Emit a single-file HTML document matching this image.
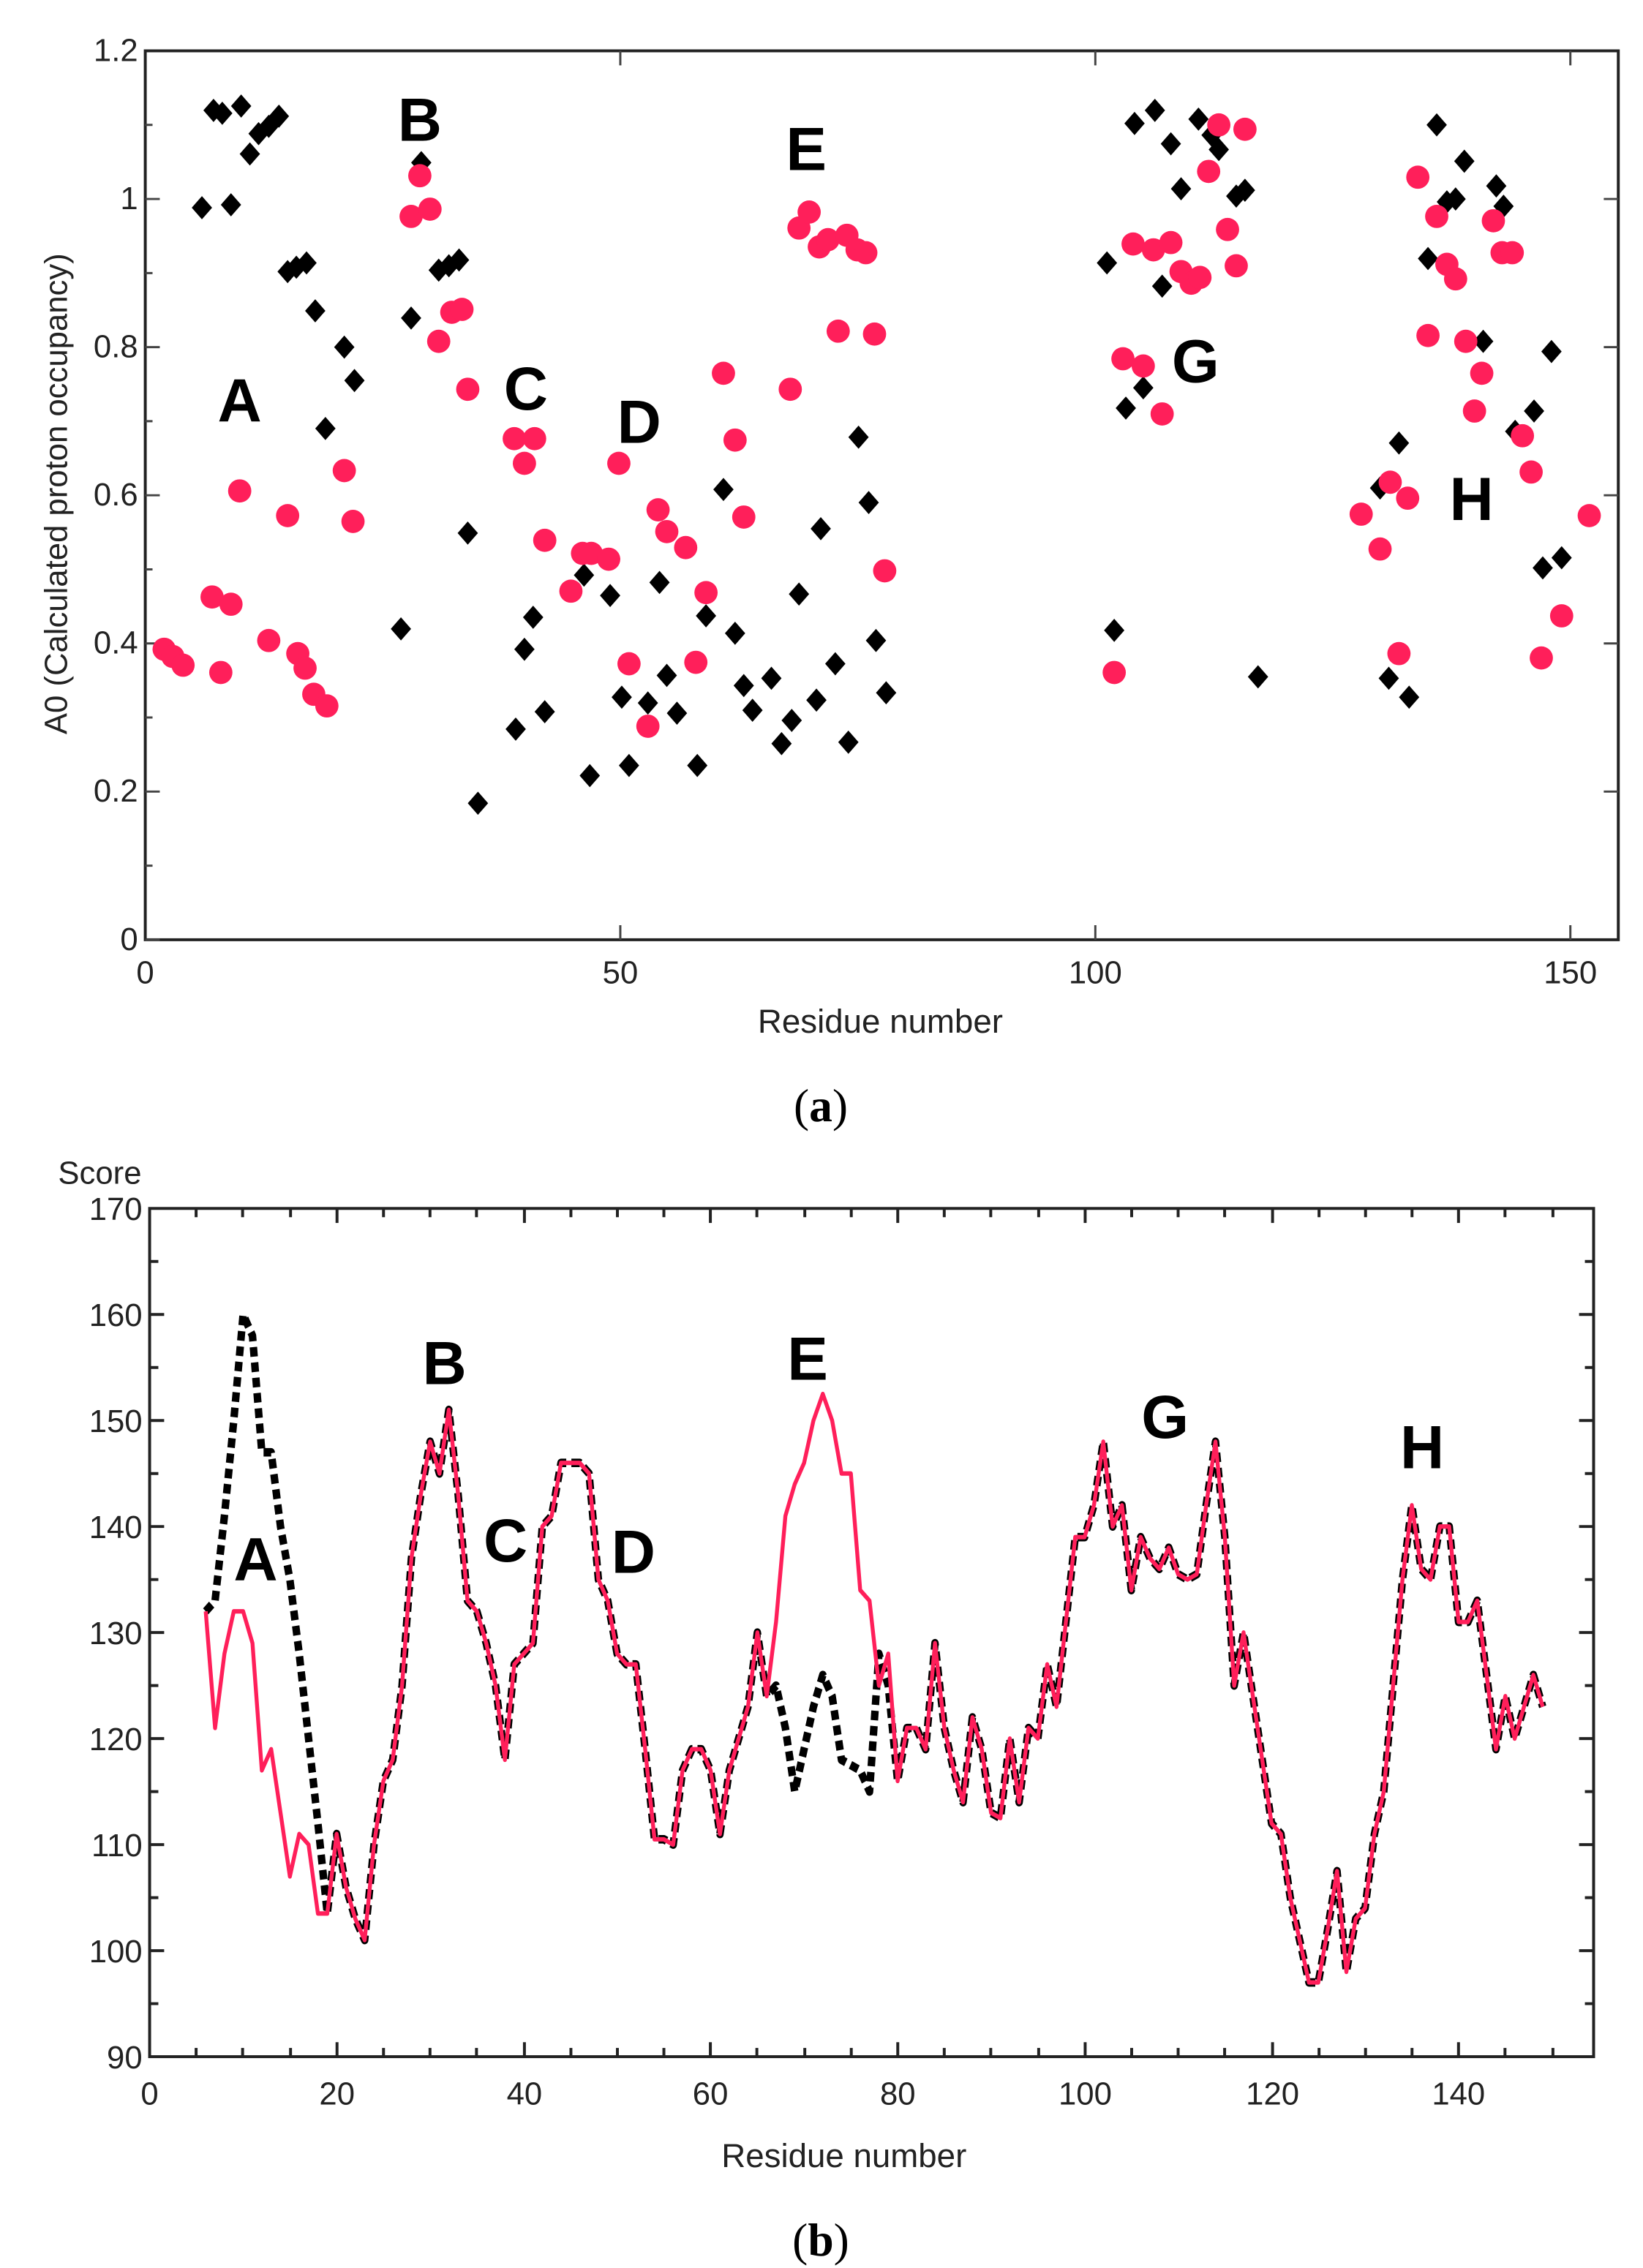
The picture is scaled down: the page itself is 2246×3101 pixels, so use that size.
<!DOCTYPE html>
<html><head><meta charset="utf-8"><style>
html,body{margin:0;padding:0;background:#fff}
svg{display:block}
text{font-family:"Liberation Sans",sans-serif}
.t{font-size:22px;fill:#222}
.L{font-size:42px;font-weight:bold;fill:#000}
</style></head><body>
<svg width="2246" height="3101" viewBox="0 0 1131 1561.5" preserveAspectRatio="none">
<defs><path id="d" d="M0,-8L7,0L0,8L-7,0Z"/></defs>
<rect x="100" y="35" width="1014" height="612" fill="none" stroke="#222" stroke-width="2"/>
<g stroke="#444" stroke-width="1.5">
<path d="M100,647h10M100,545h10M100,443h10M100,341h10M100,239h10M100,137h10M100,596h5M100,494h5M100,392h5M100,290h5M100,188h5M100,86h5M1114,545h-10M1114,443h-10M1114,341h-10M1114,239h-10M1114,137h-10M427,647v-10M754,647v-10M1081,647v-10M427,35v10M754,35v10M1081,35v10"/>
</g>
<g class="t" text-anchor="end">
<text x="95" y="654">0</text><text x="95" y="552">0.2</text><text x="95" y="450">0.4</text><text x="95" y="348">0.6</text><text x="95" y="246">0.8</text><text x="95" y="144">1</text><text x="95" y="42">1.2</text>
</g>
<g class="t" text-anchor="middle">
<text x="100" y="677">0</text><text x="427" y="677">50</text><text x="754" y="677">100</text><text x="1081" y="677">150</text>
<text x="606" y="711" style="font-size:23px">Residue number</text>
<text transform="translate(46,340) rotate(-90)" style="font-size:22px">A0 (Calculated proton occupancy)</text>
</g>
<g fill="#000">
<use href="#d" x="139" y="143"/><use href="#d" x="147" y="76"/><use href="#d" x="153" y="78"/><use href="#d" x="159" y="141"/><use href="#d" x="166" y="73"/><use href="#d" x="172" y="106"/><use href="#d" x="178" y="92"/><use href="#d" x="185" y="87"/><use href="#d" x="192" y="80"/><use href="#d" x="198" y="187"/><use href="#d" x="204" y="184"/><use href="#d" x="211" y="181"/><use href="#d" x="217" y="214"/><use href="#d" x="224" y="295"/><use href="#d" x="237" y="239"/><use href="#d" x="244" y="262"/><use href="#d" x="276" y="433"/><use href="#d" x="290" y="112"/><use href="#d" x="283" y="219"/><use href="#d" x="302" y="186"/><use href="#d" x="309" y="183"/><use href="#d" x="316" y="179"/><use href="#d" x="322" y="367"/><use href="#d" x="329" y="553"/><use href="#d" x="355" y="502"/><use href="#d" x="361" y="447"/><use href="#d" x="367" y="425"/><use href="#d" x="375" y="490"/><use href="#d" x="402" y="396"/><use href="#d" x="406" y="534"/><use href="#d" x="420" y="410"/><use href="#d" x="428" y="480"/><use href="#d" x="433" y="527"/><use href="#d" x="446" y="484"/><use href="#d" x="454" y="401"/><use href="#d" x="459" y="465"/><use href="#d" x="466" y="491"/><use href="#d" x="480" y="527"/><use href="#d" x="486" y="424"/><use href="#d" x="498" y="337"/><use href="#d" x="506" y="436"/><use href="#d" x="512" y="472"/><use href="#d" x="518" y="489"/><use href="#d" x="531" y="467"/><use href="#d" x="538" y="512"/><use href="#d" x="545" y="496"/><use href="#d" x="550" y="409"/><use href="#d" x="562" y="482"/><use href="#d" x="565" y="364"/><use href="#d" x="575" y="457"/><use href="#d" x="584" y="511"/><use href="#d" x="591" y="301"/><use href="#d" x="598" y="346"/><use href="#d" x="603" y="441"/><use href="#d" x="610" y="477"/>
<use href="#d" x="762" y="181"/><use href="#d" x="767" y="434"/><use href="#d" x="775" y="281"/><use href="#d" x="781" y="85"/><use href="#d" x="787" y="267"/><use href="#d" x="795" y="76"/><use href="#d" x="800" y="197"/><use href="#d" x="806" y="99"/><use href="#d" x="813" y="130"/><use href="#d" x="825" y="82"/><use href="#d" x="834" y="93"/><use href="#d" x="839" y="103"/><use href="#d" x="851" y="135"/><use href="#d" x="857" y="131"/><use href="#d" x="866" y="466"/>
<use href="#d" x="950" y="336"/><use href="#d" x="956" y="467"/><use href="#d" x="963" y="305"/><use href="#d" x="970" y="480"/><use href="#d" x="983" y="178"/><use href="#d" x="989" y="86"/><use href="#d" x="996" y="139"/><use href="#d" x="1002" y="137"/><use href="#d" x="1008" y="111"/><use href="#d" x="1021" y="235"/><use href="#d" x="1030" y="128"/><use href="#d" x="1035" y="142"/><use href="#d" x="1043" y="297"/><use href="#d" x="1056" y="283"/><use href="#d" x="1062" y="391"/><use href="#d" x="1068" y="242"/><use href="#d" x="1075" y="384"/>
</g>
<g fill="#ff1f5a">
<circle cx="113" cy="447" r="8"/><circle cx="119" cy="452" r="8"/><circle cx="126" cy="458" r="8"/><circle cx="146" cy="411" r="8"/><circle cx="152" cy="463" r="8"/><circle cx="159" cy="416" r="8"/><circle cx="165" cy="338" r="8"/><circle cx="185" cy="441" r="8"/><circle cx="198" cy="355" r="8"/><circle cx="205" cy="450" r="8"/><circle cx="210" cy="460" r="8"/><circle cx="216" cy="478" r="8"/><circle cx="225" cy="486" r="8"/><circle cx="237" cy="324" r="8"/><circle cx="243" cy="359" r="8"/>
<circle cx="283" cy="149" r="8"/><circle cx="289" cy="121" r="8"/><circle cx="296" cy="144" r="8"/><circle cx="302" cy="235" r="8"/><circle cx="311" cy="215" r="8"/><circle cx="318" cy="213" r="8"/><circle cx="322" cy="268" r="8"/>
<circle cx="354" cy="302" r="8"/><circle cx="361" cy="319" r="8"/><circle cx="368" cy="302" r="8"/><circle cx="375" cy="372" r="8"/><circle cx="393" cy="407" r="8"/><circle cx="401" cy="381" r="8"/><circle cx="407" cy="381" r="8"/><circle cx="419" cy="385" r="8"/><circle cx="426" cy="319" r="8"/><circle cx="433" cy="457" r="8"/><circle cx="446" cy="500" r="8"/><circle cx="453" cy="351" r="8"/><circle cx="459" cy="366" r="8"/><circle cx="472" cy="377" r="8"/><circle cx="479" cy="456" r="8"/><circle cx="486" cy="408" r="8"/><circle cx="498" cy="257" r="8"/><circle cx="506" cy="303" r="8"/><circle cx="512" cy="356" r="8"/><circle cx="544" cy="268" r="8"/>
<circle cx="550" cy="157" r="8"/><circle cx="557" cy="146" r="8"/><circle cx="564" cy="170" r="8"/><circle cx="570" cy="165" r="8"/><circle cx="583" cy="162" r="8"/><circle cx="590" cy="172" r="8"/><circle cx="596" cy="174" r="8"/><circle cx="577" cy="228" r="8"/><circle cx="602" cy="230" r="8"/><circle cx="609" cy="393" r="8"/>
<circle cx="767" cy="463" r="8"/><circle cx="773" cy="247" r="8"/><circle cx="780" cy="168" r="8"/><circle cx="787" cy="252" r="8"/><circle cx="794" cy="172" r="8"/><circle cx="800" cy="285" r="8"/><circle cx="806" cy="167" r="8"/><circle cx="813" cy="187" r="8"/><circle cx="820" cy="195" r="8"/><circle cx="826" cy="191" r="8"/><circle cx="832" cy="118" r="8"/><circle cx="839" cy="86" r="8"/><circle cx="845" cy="158" r="8"/><circle cx="851" cy="183" r="8"/><circle cx="857" cy="89" r="8"/>
<circle cx="937" cy="354" r="8"/><circle cx="950" cy="378" r="8"/><circle cx="957" cy="332" r="8"/><circle cx="963" cy="450" r="8"/><circle cx="969" cy="343" r="8"/><circle cx="976" cy="122" r="8"/><circle cx="983" cy="231" r="8"/><circle cx="989" cy="149" r="8"/><circle cx="996" cy="182" r="8"/><circle cx="1002" cy="192" r="8"/><circle cx="1009" cy="235" r="8"/><circle cx="1015" cy="283" r="8"/><circle cx="1020" cy="257" r="8"/><circle cx="1028" cy="152" r="8"/><circle cx="1034" cy="174" r="8"/><circle cx="1041" cy="174" r="8"/><circle cx="1048" cy="300" r="8"/><circle cx="1054" cy="325" r="8"/><circle cx="1061" cy="453" r="8"/><circle cx="1075" cy="424" r="8"/><circle cx="1094" cy="355" r="8"/>
</g>
<g class="L" text-anchor="middle">
<text x="165" y="290">A</text><text x="289" y="97">B</text><text x="362" y="282">C</text><text x="440" y="305">D</text><text x="555" y="117">E</text><text x="823" y="263">G</text><text x="1013" y="358">H</text>
</g>
<text x="565" y="772" text-anchor="middle" style="font-family:'Liberation Serif',serif;font-size:32px">(<tspan font-weight="bold">a</tspan>)</text>

<rect x="103" y="832" width="994" height="584" fill="none" stroke="#222" stroke-width="2"/>
<g stroke="#222" stroke-width="2">
<path d="M103,1343h10M103,1270h10M103,1197h10M103,1124h10M103,1051h10M103,978h10M103,905h10M103,1379.5h6M103,1306.5h6M103,1233.5h6M103,1160.5h6M103,1087.5h6M103,1014.5h6M103,941.5h6M103,868.5h6M1097,1343h-10M1097,1270h-10M1097,1197h-10M1097,1124h-10M1097,1051h-10M1097,978h-10M1097,905h-10M1097,1379.5h-6M1097,1306.5h-6M1097,1233.5h-6M1097,1160.5h-6M1097,1087.5h-6M1097,1014.5h-6M1097,941.5h-6M1097,868.5h-6M232,1416v-10M361,1416v-10M489,1416v-10M618,1416v-10M747,1416v-10M876,1416v-10M1004,1416v-10M232,832v10M361,832v10M489,832v10M618,832v10M747,832v10M876,832v10M1004,832v10M135,1416v-6M167,1416v-6M200,1416v-6M264,1416v-6M296,1416v-6M328,1416v-6M393,1416v-6M425,1416v-6M457,1416v-6M521,1416v-6M554,1416v-6M586,1416v-6M650,1416v-6M682,1416v-6M715,1416v-6M779,1416v-6M811,1416v-6M843,1416v-6M908,1416v-6M940,1416v-6M972,1416v-6M1036,1416v-6M1069,1416v-6M135,832v6M167,832v6M200,832v6M264,832v6M296,832v6M328,832v6M393,832v6M425,832v6M457,832v6M521,832v6M554,832v6M586,832v6M650,832v6M682,832v6M715,832v6M779,832v6M811,832v6M843,832v6M908,832v6M940,832v6M972,832v6M1036,832v6M1069,832v6"/>
</g>
<g class="t" text-anchor="end">
<text x="98" y="1424">90</text><text x="98" y="1351">100</text><text x="98" y="1278">110</text><text x="98" y="1205">120</text><text x="98" y="1132">130</text><text x="98" y="1059">140</text><text x="98" y="986">150</text><text x="98" y="913">160</text><text x="98" y="840">170</text>
</g>
<text x="40" y="815" class="t">Score</text>
<g class="t" text-anchor="middle">
<text x="103" y="1449">0</text><text x="232" y="1449">20</text><text x="361" y="1449">40</text><text x="489" y="1449">60</text><text x="618" y="1449">80</text><text x="747" y="1449">100</text><text x="876" y="1449">120</text><text x="1004" y="1449">140</text>
<text x="581" y="1492" style="font-size:23px">Residue number</text>
</g>
<g transform="translate(103,1416) scale(6.436,-7.3) translate(0,-90)" fill="none" stroke-linejoin="round">
<polyline stroke="#000" stroke-width="0.8" stroke-dasharray="0.9 0.55" points="6,132 7,133 8,141 9,150 10,160 11,158 12,147 13,147 14,140 15,135 16,128 17,120 18,112 19,103.5 20,111 21,106 22,103 23,101 24,110 25,116 26,118 27,125 28,137 29,143 30,148 31,145 32,151 33,143 34,133 35,132 36,129 37,125 38,118 39,127 40,128 41,129 42,140 43,141 44,146 45,146 46,146 47,145 48,135 49,133 50,128 51,127 52,127 53,119 54,110.5 55,110.5 56,110 57,117 58,119 59,119 60,117 61,111 62,117 63,120 64,123 65,130 66,124 67,125 68,121 69,115 70,119 71,123 72,126 73,124 74,118 75,117.5 76,117 77,115 78,128 79,125 80,116 81,121 82,121 83,119 84,129 85,121 86,117 87,114 88,122 89,119 90,113 91,112.5 92,120 93,114 94,121 95,120 96,127 97,123 98,131 99,139 100,139 101,142 102,148 103,140 104,142 105,134 106,139 107,137 108,136 109,138 110,135.5 111,135 112,135.5 113,142 114,148 115,139 116,125 117,130 118,124 119,118 120,112 121,111 122,105 123,101 124,97 125,97 126,102 127,107.5 128,98 129,103 130,104 131,111 132,115 133,125 134,135 135,142 136,136 137,135 138,140 139,140 140,131 141,131 142,133 143,126 144,119 145,124 146,120 147,123 148,126 149,123"/>
<polyline stroke="#ff1f5a" stroke-width="0.42" points="6,132 7,121 8,128 9,132 10,132 11,129 12,117 13,119 14,113 15,107 16,111 17,110 18,103.5 19,103.5 20,111 21,106 22,103 23,101 24,110 25,116 26,118 27,125 28,137 29,143 30,148 31,145 32,151 33,143 34,133 35,132 36,129 37,125 38,118 39,127 40,128 41,129 42,140 43,141 44,146 45,146 46,146 47,145 48,135 49,133 50,128 51,127 52,127 53,119 54,110.5 55,110.5 56,110 57,117 58,119 59,119 60,117 61,111 62,117 63,120 64,123 65,130 66,124 67,131 68,141 69,144 70,146 71,150 72,152.5 73,150 74,145 75,145 76,134 77,133 78,125 79,128 80,116 81,121 82,121 83,119 84,129 85,121 86,117 87,114 88,122 89,119 90,113 91,112.5 92,120 93,114 94,121 95,120 96,127 97,123 98,131 99,139 100,139 101,142 102,148 103,140 104,142 105,134 106,139 107,137 108,136 109,138 110,135.5 111,135 112,135.5 113,142 114,148 115,139 116,125 117,130 118,124 119,118 120,112 121,111 122,105 123,101 124,97 125,97 126,102 127,107.5 128,98 129,103 130,104 131,111 132,115 133,125 134,135 135,142 136,136 137,135 138,140 139,140 140,131 141,131 142,133 143,126 144,119 145,124 146,120 147,123 148,126 149,123"/>
</g>
<g class="L" text-anchor="middle">
<text x="176" y="1088">A</text><text x="306" y="953">B</text><text x="348" y="1075">C</text><text x="436" y="1083">D</text><text x="556" y="950">E</text><text x="802" y="990">G</text><text x="979" y="1011">H</text>
</g>
<text x="565" y="1553" text-anchor="middle" style="font-family:'Liberation Serif',serif;font-size:32px">(<tspan font-weight="bold">b</tspan>)</text>
</svg>
</body></html>
